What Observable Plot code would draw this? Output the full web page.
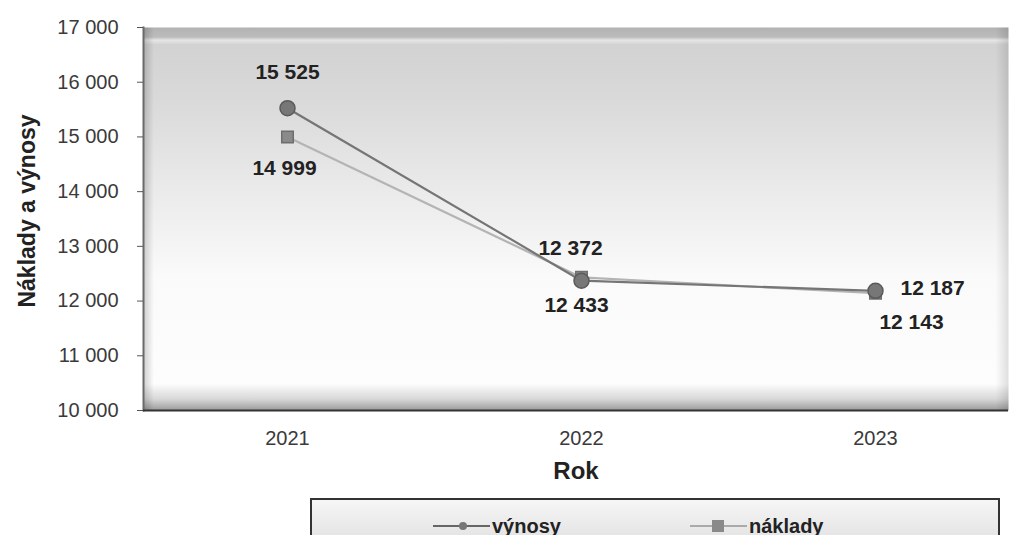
<!DOCTYPE html>
<html>
<head>
<meta charset="utf-8">
<script src="https://cdn.jsdelivr.net/npm/d3@7"></script>
<script src="https://cdn.jsdelivr.net/npm/@observablehq/plot@0.6"></script>
<style>
  body { margin: 0; background: #fff; font-family: "Liberation Sans", Arial, sans-serif; overflow: hidden; }
  #wrap { position: relative; width: 1012px; height: 535px; }
  #legend { position: absolute; left: 310px; top: 498px; width: 690px; height: 50px;
    border: 2px solid #333; box-sizing: border-box;
    background: linear-gradient(#f6f6f6, #e0e0e0); font-weight: bold; font-size: 20px; color: #222; }
  .item { position: absolute; top: 14px; display: flex; align-items: center; line-height: 24px; }
  .item svg { margin-right: 2px; }
</style>
</head>
<body>
<div id="wrap">
  <div id="chart"></div>
  <div id="legend"></div>
</div>
<script>
const years = ["2021", "2022", "2023"];
const vynosy = [15525, 12372, 12187];
const naklady = [14999, 12433, 12143];
const yTicks = [10000, 11000, 12000, 13000, 14000, 15000, 16000, 17000];
const seriesNames = ["výnosy", "náklady"];

const fmt = v => d3.format(",")(v).replace(/,/g, " ");
const vyn = years.map((y, i) => ({year: y, value: vynosy[i], i}));
const nak = years.map((y, i) => ({year: y, value: naklady[i], i}));
const lbl = {fontSize: 21, fontWeight: "bold", fill: "#222", text: d => fmt(d.value), x: "year", y: "value"};

const chart = Plot.plot({
  width: 1012,
  height: 490,
  marginLeft: 143,
  marginRight: 4,
  marginTop: 27,
  marginBottom: 80,
  style: {fontFamily: "Liberation Sans, Arial, sans-serif", fontSize: "20px", background: "transparent"},
  x: {type: "point", domain: years, padding: 0.47, align: 0.52, label: null},
  y: {domain: [10000, 17000], ticks: yTicks, label: null},
  marks: [
    Plot.frame({fill: "url(#bgGrad)", stroke: null}),
    Plot.frame({fill: "url(#edgeGrad)", stroke: null}),
    Plot.frame({anchor: "left", stroke: "#6a6a6a", strokeWidth: 2}),
    Plot.axisY({ticks: yTicks, tickFormat: fmt, tickSize: 6, tickPadding: 19, fontSize: 20, fill: "#3a3a3a", stroke: "#555", label: null}),
    Plot.axisX({tickSize: 0, tickPadding: 20, fontSize: 20, fill: "#3a3a3a", label: null}),
    Plot.ruleY([10000], {stroke: "#333", strokeWidth: 2}),
    Plot.line(nak, {x: "year", y: "value", stroke: "#b4b4b4", strokeWidth: 2.2}),
    Plot.line(vyn, {x: "year", y: "value", stroke: "#757575", strokeWidth: 2.2}),
    Plot.dot(nak, {x: "year", y: "value", symbol: "square", r: 6.5, fill: "#8a8a8a", stroke: "#6e6e6e"}),
    Plot.dot(vyn, {x: "year", y: "value", symbol: "circle", r: 7.5, fill: "#777", stroke: "#5a5a5a"}),
    // výnosy labels
    Plot.text(vyn.filter(d => d.i === 0), {...lbl, dy: -36}),
    Plot.text(vyn.filter(d => d.i === 1), {...lbl, dy: -32, dx: -11}),
    Plot.text(vyn.filter(d => d.i === 2), {...lbl, dx: 25, dy: -3, textAnchor: "start"}),
    // náklady labels
    Plot.text(nak.filter(d => d.i === 0), {...lbl, dy: 31, dx: -3}),
    Plot.text(nak.filter(d => d.i === 1), {...lbl, dy: 28, dx: -5}),
    Plot.text(nak.filter(d => d.i === 2), {...lbl, dy: 29, dx: 36}),
    Plot.text(["Rok"], {frameAnchor: "bottom", dy: 68, fontSize: 24, fontWeight: "bold", fill: "#222"}),
    Plot.text(["Náklady a výnosy"], {frameAnchor: "left", textAnchor: "middle", dx: -116, dy: -8, rotate: -90, fontSize: 23, fontWeight: "bold", fill: "#222", letterSpacing: "0.4px"})
  ]
});

// gradient definitions for plot background
const ns = "http://www.w3.org/2000/svg";
const defs = document.createElementNS(ns, "defs");
defs.innerHTML = `
<linearGradient id="bgGrad" x1="0" y1="0" x2="0" y2="1">
  <stop offset="0" stop-color="#b2b2b2"/>
  <stop offset="0.025" stop-color="#bcbcbc"/>
  <stop offset="0.033" stop-color="#e6e6e6"/>
  <stop offset="0.045" stop-color="#d2d2d2"/>
  <stop offset="0.2" stop-color="#dadada"/>
  <stop offset="0.45" stop-color="#ececec"/>
  <stop offset="0.65" stop-color="#fafafa"/>
  <stop offset="0.93" stop-color="#fdfdfd"/>
  <stop offset="0.97" stop-color="#d8d8d8"/>
  <stop offset="1" stop-color="#9a9a9a"/>
</linearGradient>
<linearGradient id="edgeGrad" x1="0" y1="0" x2="1" y2="0">
  <stop offset="0" stop-color="#000" stop-opacity="0.18"/>
  <stop offset="0.012" stop-color="#000" stop-opacity="0"/>
  <stop offset="0.985" stop-color="#000" stop-opacity="0"/>
  <stop offset="1" stop-color="#000" stop-opacity="0.12"/>
</linearGradient>`;
chart.insertBefore(defs, chart.firstChild);
document.getElementById("chart").appendChild(chart);

// legend
const legend = document.getElementById("legend");
const items = [
  {name: seriesNames[0], left: 121, stroke: "#666", shape: "circle", fill: "#777"},
  {name: seriesNames[1], left: 378, stroke: "#aaa", shape: "square", fill: "#8a8a8a"}
];
items.forEach(m => {
  const div = document.createElement("div");
  div.className = "item";
  div.style.left = m.left + "px";
  const sym = m.shape === "circle"
    ? `<circle cx="30" cy="10" r="4" fill="${m.fill}"/>`
    : `<rect x="22" y="4" width="12" height="12" fill="${m.fill}"/>`;
  div.innerHTML = `<svg width="57" height="20"><line x1="0" x2="57" y1="10" y2="10" stroke="${m.stroke}" stroke-width="2"/>${sym}</svg><span>${m.name}</span>`;
  legend.appendChild(div);
});
</script>
</body>
</html>
